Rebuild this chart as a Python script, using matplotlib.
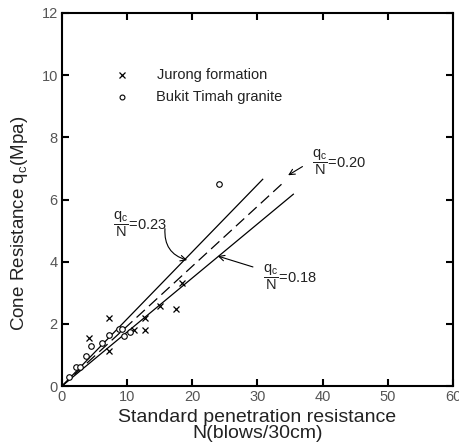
import matplotlib
matplotlib.use("Agg")
from matplotlib import pyplot as plt

plt.rcParams['font.family'] = ['Liberation Sans', 'DejaVu Sans']
plt.rcParams['mathtext.fontset'] = 'custom'
plt.rcParams['mathtext.rm'] = 'Liberation Sans'
plt.rcParams['mathtext.it'] = 'Liberation Sans'

# Jurong formation (x)
jurong_n = [4.1, 7.2, 7.2, 11.0, 12.8, 12.8, 15.1, 17.5, 18.4]
jurong_q = [1.56, 2.2, 1.12, 1.8, 2.2, 1.8, 2.57, 2.47, 3.3]

# Bukit Timah granite (o)
bukit_n = [1.1, 2.15, 2.8, 3.7, 4.45, 6.1, 7.2, 8.7, 9.2, 9.5, 10.4, 24.1]
bukit_q = [0.28, 0.6, 0.6, 0.95, 1.28, 1.37, 1.64, 1.83, 1.83, 1.62, 1.75, 6.5]

# trend lines qc/N, drawn from origin to end point
line_labels = ["0.23", "0.20", "0.18"]
line_end_n = [30.8, 34.2, 35.5]
line_end_q = [6.65, 6.59, 6.17]
line_styles = ["-", "--", "-"]

txt = '#222222'
tick_col = '#555555'

fig = plt.figure(figsize=(4.6, 4.46), dpi=100)
ax = fig.add_axes([62/460, 60/446, 391/460, 373/446])

for lab, n, q, ls in zip(line_labels, line_end_n, line_end_q, line_styles):
  l, = ax.plot([0, n], [0, q], color='black', lw=0.9, ls=ls)
  if ls == "--":
    l.set_dashes((9, 4.5))

ax.plot(jurong_n, jurong_q, 'x', color='black', ms=4.5, mew=0.9)
ax.plot(bukit_n, bukit_q, 'o', mfc='white', mec='black', ms=4, mew=0.8)

# legend drawn by hand like in the original
ax.plot([9.2], [10.0], 'x', color='black', ms=4, mew=0.9)
ax.plot([9.2], [9.29], 'o', mfc='white', mec='black', ms=3.5, mew=0.8)
ax.text(14.6, 10.0, "Jurong formation", color=txt, fontsize=10.5, va='center')
ax.text(14.4, 9.29, "Bukit Timah granite", color=txt, fontsize=10.5, va='center')

frac = r'$\dfrac{\mathrm{q_c}}{\mathrm{N}}$'
arr = dict(arrowstyle='->', color='black', lw=0.8, shrinkA=0, shrinkB=0)

ax.text(38.3, 7.2, frac + "=0.20", color=txt, fontsize=10.5, va='center')
ax.annotate("", xy=(34.7, 6.78), xytext=(36.9, 7.06), arrowprops=arr)

ax.text(7.9, 5.21, frac + "=0.23", color=txt, fontsize=10.5, va='center')
ax.annotate("", xy=(19.2, 4.05), xytext=(15.8, 5.06),
            arrowprops=dict(arr, connectionstyle="arc3,rad=0.4"))

ax.text(30.8, 3.5, frac + "=0.18", color=txt, fontsize=10.5, va='center')
ax.annotate("", xy=(23.9, 4.18), xytext=(29.3, 3.83), arrowprops=arr)

ax.set_xlim(0, 60)
ax.set_ylim(0, 12)
ax.set_xticks(range(0, 61, 10))
ax.set_yticks(range(0, 13, 2))
ax.tick_params(direction='in', length=5, width=1.5, top=True, right=True,
               labelsize=10.5, labelcolor=tick_col, pad=3)
for s in ax.spines.values():
  s.set_linewidth(1.5)

ax.set_xlabel("Standard penetration resistance\nN(blows/30cm)", fontsize=14,
              color=txt, linespacing=0.92, labelpad=3.5)
ax.text(-0.108, 0.435, r"Cone Resistance q$_\mathrm{c}$(Mpa)", transform=ax.transAxes,
        rotation=90, ha='center', va='center', fontsize=13.5, color=txt)

fig.savefig("out.png", dpi=100)
